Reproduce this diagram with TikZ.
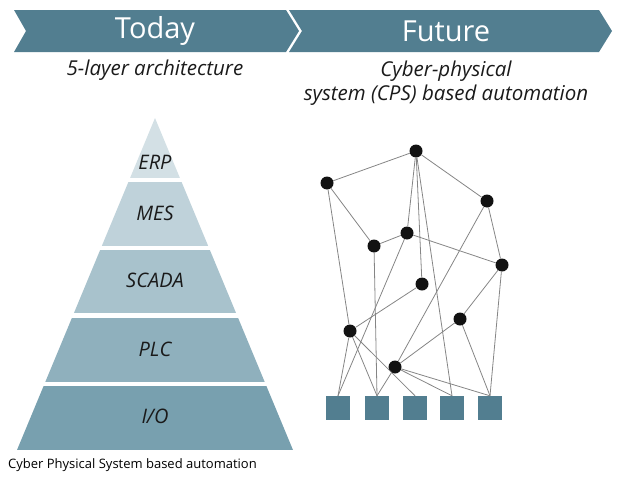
\documentclass[tikz,border=0pt]{standalone}
\usepackage{fontspec}
\setmainfont{Open Sans}
\definecolor{bar}{HTML}{527E90}
\definecolor{cerp}{HTML}{D3E0E5}
\definecolor{cmes}{HTML}{BFD2DA}
\definecolor{cscada}{HTML}{A8C2CC}
\definecolor{cplc}{HTML}{8FB0BD}
\definecolor{cio}{HTML}{78A0AF}
\definecolor{edgegray}{HTML}{858585}
\definecolor{labelink}{HTML}{1A1A1A}
\tikzset{
  titletext/.style={text=white, font=\fontsize{29}{33}\selectfont, inner sep=0pt},
  subtext/.style={text=labelink, font=\fontsize{20.5}{24.5}\selectfont\itshape, inner sep=0pt, align=center},
  layertext/.style={text=labelink, font=\fontsize{20}{24}\selectfont\itshape, inner sep=0pt},
  captiontext/.style={text=black, font=\fontsize{13}{15}\selectfont, inner sep=0pt, anchor=west},
  dot/.style={circle, fill=black!93, minimum size=13pt, inner sep=0pt},
  device/.style={rectangle, fill=bar, minimum size=24pt, inner sep=0pt},
  link/.style={draw=edgegray, line width=0.8pt}
}
\begin{document}
\begin{tikzpicture}[x=1pt,y=-1pt]
\useasboundingbox (0,0) rectangle (621,479);
% header chevrons
\fill[bar] (14,10) -- (286,10) -- (299,31) -- (286,52) -- (14,52) -- (26,31) -- cycle;
\fill[bar] (289,10) -- (599,10) -- (612,31) -- (599,52) -- (289,52) -- (302,31) -- cycle;
\node[titletext] (today) at (155,31) {Today};
\node[titletext] (future) at (446,31) {Future};
\node[subtext] (sub1) at (155,70) {5-layer architecture};
\node[subtext] (sub2) at (446,83) {Cyber-physical\\system (CPS) based automation};
% pyramid
\begin{scope}
\clip (155,118) -- (293,450) -- (17,450) -- cycle;
\fill[cerp] (0,110) rectangle (320,178);
\fill[cmes] (0,182) rectangle (320,246);
\fill[cscada] (0,250) rectangle (320,313);
\fill[cplc] (0,318) rectangle (320,382);
\fill[cio] (0,386) rectangle (320,450);
\end{scope}
\node[layertext] (erp) at (155,162) {ERP};
\node[layertext] (mes) at (155,213) {MES};
\node[layertext] (scada) at (155,280) {SCADA};
\node[layertext] (plc) at (155,349) {PLC};
\node[layertext] (io) at (155,416) {I/O};
\node[captiontext] (caption) at (8,465) {Cyber Physical System based automation};
% network
\node[dot] (A) at (416,151) {};
\node[dot] (B) at (327,183) {};
\node[dot] (C) at (487,201) {};
\node[dot] (D) at (407,233) {};
\node[dot] (E) at (374,246) {};
\node[dot] (F) at (502,265) {};
\node[dot] (G) at (422,284) {};
\node[dot] (H) at (350,331) {};
\node[dot] (I) at (460,319) {};
\node[dot] (J) at (395,367) {};
\node[device] (S1) at (338,408) {};
\node[device] (S2) at (377,408) {};
\node[device] (S3) at (415,408) {};
\node[device] (S4) at (452,408) {};
\node[device] (S5) at (490,408) {};
\draw[link] (A) -- (B);
\draw[link] (A) -- (C);
\draw[link] (A) -- (D);
\draw[link] (A) -- (G);
\draw[link] (A) -- (S4.north);
\draw[link] (B) -- (E);
\draw[link] (B) -- (H);
\draw[link] (E) -- (D);
\draw[link] (E) -- (S2.north);
\draw[link] (D) -- (F);
\draw[link] (D) -- (S1.north);
\draw[link] (C) -- (F);
\draw[link] (C) -- (J);
\draw[link] (F) -- (I);
\draw[link] (F) -- (S5.north);
\draw[link] (G) -- (H);
\draw[link] (H) -- (S1.north);
\draw[link] (H) -- (S2.north);
\draw[link] (H) -- (S3.north);
\draw[link] (J) -- (I);
\draw[link] (J) -- (S2.north);
\draw[link] (J) -- (S4.north);
\draw[link] (J) -- (S5.north);
\draw[link] (I) -- (S5.north);
\end{tikzpicture}
\end{document}
